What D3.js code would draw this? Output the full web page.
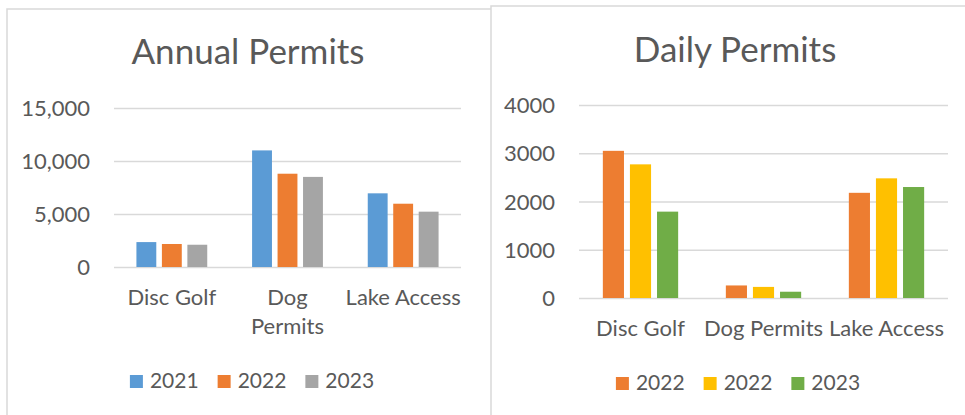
<!DOCTYPE html>
<html>
<head>
<meta charset="utf-8">
<script src="https://cdn.jsdelivr.net/npm/d3@7"></script>
<style>
  body { margin: 0; background: #fff; }
  text { font-family: Lato, "Open Sans", sans-serif; fill: #595959; }
</style>
</head>
<body>
<svg width="965" height="415"></svg>
<script>
// data
var categories = ["Disc Golf", "Dog Permits", "Lake Access"];

var annualSeries = ["2021", "2022", "2023"];
var annual2021 = [2350, 11000, 6950];
var annual2022 = [2170, 8800, 5970];
var annual2023 = [2100, 8500, 5220];
var annualTicks = [0, 5000, 10000, 15000];

var dailySeries = ["2022", "2022", "2023"];   // legend reads 2022 twice
var daily1 = [3050, 260, 2180];
var daily2 = [2770, 230, 2480];
var daily3 = [1790, 130, 2300];
var dailyTicks = [0, 1000, 2000, 3000, 4000];

var svg = d3.select("svg");
svg.append("rect").attr("width", 965).attr("height", 415).attr("fill", "#fff");

function wrap(sel, width, lineH) {
    sel.each(function() {
        var t = d3.select(this);
        if (this.getComputedTextLength() <= width) return;
        var words = t.text().split(" ");
        var y = t.attr("y");
        t.text(null);
        words.forEach(function(w, i) {
            t.append("tspan").attr("x", 0).attr("y", y).attr("dy", i * lineH).text(w);
        });
    });
}

function drawChart(opt) {
    var g = svg.append("g");

    // chart frame
    g.append("rect")
        .attr("x", opt.box[0]).attr("y", opt.box[1])
        .attr("width", opt.box[2]).attr("height", opt.box[3])
        .attr("fill", "#fff").attr("stroke", "#d9d9d9").attr("stroke-width", 1.5);

    g.append("text")
        .attr("x", opt.titleX).attr("y", opt.titleY)
        .attr("text-anchor", "middle")
        .style("font-size", "35px")
        .text(opt.title);

    var x0 = d3.scaleBand().domain(categories).range([opt.left, opt.right]);
    var x1 = d3.scaleBand().domain(d3.range(opt.series.length))
        .range([0, x0.bandwidth()])
        .paddingInner(0.22).paddingOuter(0.88);
    var y = d3.scaleLinear().domain(opt.domain).range([opt.zeroY, opt.topY]);

    var yAxis = g.append("g")
        .attr("transform", "translate(" + opt.left + ",0)")
        .call(d3.axisLeft(y).tickValues(opt.ticks).tickFormat(opt.fmt)
            .tickSize(-(opt.right - opt.left)).tickPadding(24));
    yAxis.select(".domain").remove();
    yAxis.selectAll("line").attr("stroke", "#d9d9d9").attr("stroke-width", 1.5);
    yAxis.selectAll("text").style("font-size", "22px").attr("dy", "0.35em");

    opt.values.forEach(function(vals, s) {
        g.append("g").selectAll("rect")
            .data(vals)
            .join("rect")
            .attr("x", function(d, i) { return x0(categories[i]) + x1(s); })
            .attr("width", x1.bandwidth())
            .attr("y", function(d) { return y(d); })
            .attr("height", function(d) { return y(0) - y(d); })
            .attr("fill", opt.colors[s]);
    });

    var xAxis = g.append("g")
        .attr("transform", "translate(0," + opt.zeroY + ")")
        .call(d3.axisBottom(x0).tickSize(0));
    xAxis.select(".domain").remove();
    xAxis.selectAll("text")
        .style("font-size", "22px")
        .attr("y", 38).attr("dy", 0)
        .call(wrap, x0.bandwidth(), 29);

    // legend
    var leg = g.append("g");
    var lx = 0;
    opt.series.forEach(function(name, s) {
        var it = leg.append("g").attr("transform", "translate(" + lx + ",0)");
        it.append("rect").attr("x", 0).attr("y", -13).attr("width", 13).attr("height", 13)
            .attr("fill", opt.colors[s]);
        var t = it.append("text").attr("x", 20).attr("y", 0)
            .style("font-size", "21px").text(name);
        lx += 20 + t.node().getComputedTextLength() + 19;
    });
    lx -= 19;
    leg.attr("transform", "translate(" + (opt.legendCx - lx / 2) + "," + opt.legendY + ")");
}

drawChart({
    box: [7, 9, 500, 420],
    title: "Annual Permits", titleX: 248, titleY: 64,
    left: 114, right: 461, zeroY: 267, topY: 108,
    domain: [0, 15000], ticks: annualTicks, fmt: d3.format(","),
    series: annualSeries,
    values: [annual2021, annual2022, annual2023],
    colors: ["#5b9bd5", "#ed7d31", "#a5a5a5"],
    legendCx: 252, legendY: 388
});

drawChart({
    box: [491, 6, 500, 420],
    title: "Daily Permits", titleX: 735, titleY: 62,
    left: 579, right: 948, zeroY: 298, topY: 105,
    domain: [0, 4000], ticks: dailyTicks, fmt: d3.format("d"),
    series: dailySeries,
    values: [daily1, daily2, daily3],
    colors: ["#ed7d31", "#ffc000", "#70ad47"],
    legendCx: 738, legendY: 390
});
</script>
</body>
</html>
